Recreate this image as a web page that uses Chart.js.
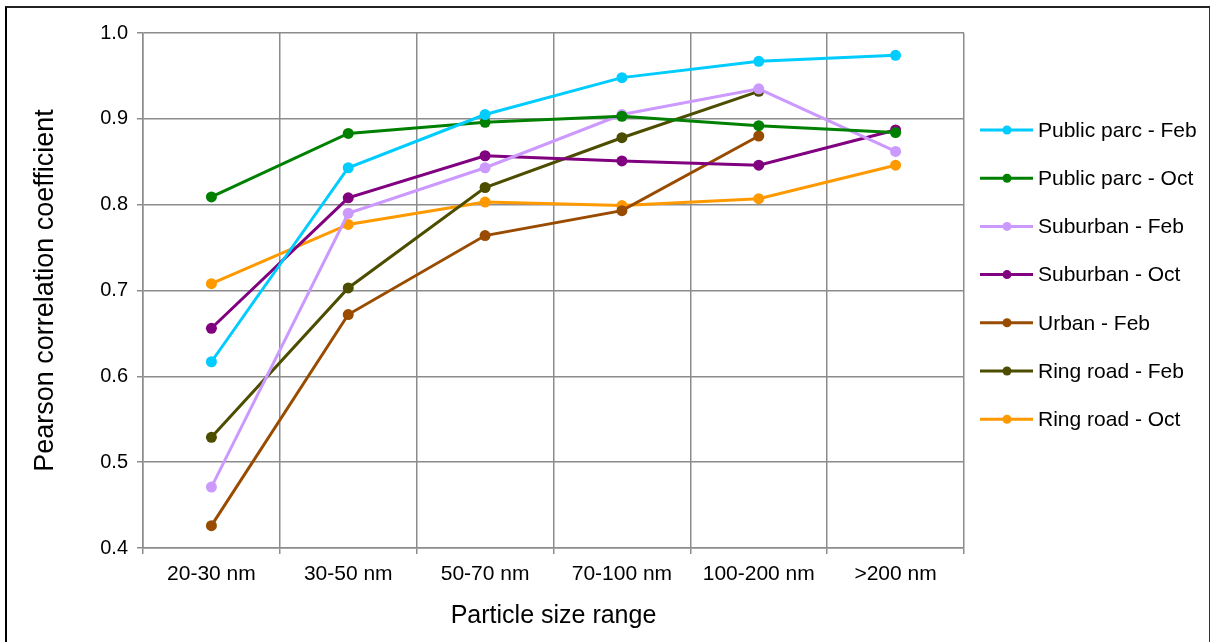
<!DOCTYPE html>
<html>
<head>
<meta charset="utf-8">
<script src="https://cdn.jsdelivr.net/npm/chart.js@4/dist/chart.umd.min.js"></script>
<style>
  html, body { margin: 0; padding: 0; background: #fff; }
  .frame {
    position: absolute; left: 5px; top: 6px; width: 1202px; height: 700px;
    border-left: 2px solid #000; border-top: 2px solid #222; border-right: 1px solid #333;
  }
  .wrap { position: absolute; left: 0; top: 0; width: 1210px; height: 642px; }
</style>
</head>
<body>
<div class="frame"></div>
<div class="wrap"><canvas id="corrChart" width="1210" height="642"></canvas></div>
<script>
const sizeRanges = ['20-30 nm', '30-50 nm', '50-70 nm', '70-100 nm', '100-200 nm', '>200 nm'];

const publicParcFeb = [0.617, 0.843, 0.905, 0.948, 0.967, 0.974];
const publicParcOct = [0.809, 0.883, 0.896, 0.903, 0.892, 0.884];
const suburbanFeb = [0.471, 0.790, 0.843, 0.905, 0.935, 0.862];
const suburbanOct = [0.656, 0.808, 0.857, 0.851, 0.846, 0.887];
const urbanFeb = [0.426, 0.672, 0.764, 0.793, 0.880, null];
const ringRoadFeb = [0.529, 0.703, 0.820, 0.878, 0.932, null];
const ringRoadOct = [0.708, 0.777, 0.803, 0.799, 0.807, 0.846];

const yTicks = [0.4, 0.5, 0.6, 0.7, 0.8, 0.9, 1.0];

const FONT = '"Liberation Sans", Arial, sans-serif';

function series(label, data, color) {
  return {
    label,
    data,
    borderColor: color,
    backgroundColor: color,
    borderWidth: 3,
    pointRadius: 5.5,
    pointHoverRadius: 5.5,
    pointBorderWidth: 0,
    tension: 0,
    fill: false,
  };
}

const datasets = [
  series('Public parc - Feb', publicParcFeb, '#00ccff'),
  series('Public parc - Oct', publicParcOct, '#008000'),
  series('Suburban - Feb', suburbanFeb, '#cc99ff'),
  series('Suburban - Oct', suburbanOct, '#800080'),
  series('Urban - Feb', urbanFeb, '#994c00'),
  series('Ring road - Feb', ringRoadFeb, '#4d4d00'),
  series('Ring road - Oct', ringRoadOct, '#ff9900'),
];

// legend drawn by hand so the line + dot sample looks like the original
const sideLegend = {
  id: 'sideLegend',
  afterDraw(chart) {
    const ctx = chart.ctx;
    const x0 = 980;
    const y0 = 130;
    const step = 48.2;
    ctx.save();
    ctx.font = '21px ' + FONT;
    ctx.textBaseline = 'middle';
    ctx.textAlign = 'left';
    chart.data.datasets.forEach((ds, i) => {
      const y = y0 + i * step;
      ctx.strokeStyle = ds.borderColor;
      ctx.lineWidth = 3;
      ctx.beginPath();
      ctx.moveTo(x0, y);
      ctx.lineTo(x0 + 53, y);
      ctx.stroke();
      ctx.fillStyle = ds.borderColor;
      ctx.beginPath();
      ctx.arc(x0 + 27, y, 4.5, 0, Math.PI * 2);
      ctx.fill();
      ctx.fillStyle = '#000';
      ctx.fillText(ds.label, x0 + 58, y + 1);
    });
    ctx.restore();
  },
};

new Chart(document.getElementById('corrChart'), {
  type: 'line',
  data: { labels: sizeRanges, datasets },
  plugins: [sideLegend],
  options: {
    responsive: false,
    animation: false,
    spanGaps: false,
    layout: { padding: { left: 0, top: 33, right: 246, bottom: 0 } },
    plugins: {
      legend: { display: false },
      tooltip: { enabled: false },
    },
    scales: {
      x: {
        offset: true,
        grid: { offset: true, color: '#8c8c8c', lineWidth: 1.5, tickLength: 6 },
        border: { color: '#8c8c8c', width: 1.5 },
        ticks: {
          color: '#000',
          padding: 8,
          font: { family: FONT, size: 21 },
        },
        title: {
          display: true,
          text: 'Particle size range',
          color: '#000',
          padding: { top: 0, bottom: 11 },
          font: { family: FONT, size: 25 },
        },
        afterFit: (scale) => { scale.height = 94; },
      },
      y: {
        min: 0.4,
        max: 1.0,
        afterBuildTicks: (scale) => { scale.ticks = yTicks.map((v) => ({ value: v })); },
        grid: { color: '#8c8c8c', lineWidth: 1.5, tickLength: 6 },
        border: { color: '#8c8c8c', width: 1.5 },
        ticks: {
          color: '#000',
          padding: 9,
          font: { family: FONT, size: 20 },
          callback: (v) => Number(v).toFixed(1),
        },
        title: {
          display: true,
          text: 'Pearson correlation coefficient',
          color: '#000',
          padding: { top: 29, bottom: 0 },
          font: { family: FONT, size: 27 },
        },
        afterFit: (scale) => { scale.width = 143; },
      },
    },
  },
});
</script>
</body>
</html>
